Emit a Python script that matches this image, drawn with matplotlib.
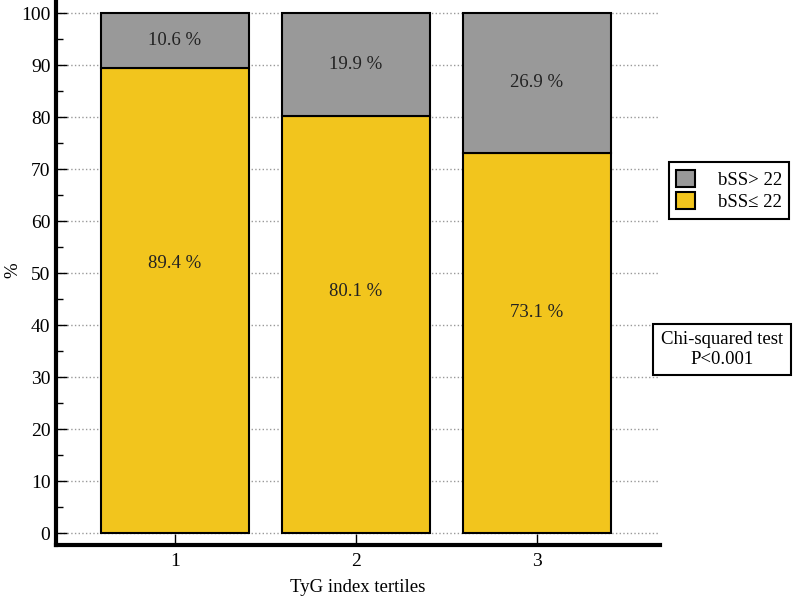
import matplotlib
matplotlib.use('Agg')
import matplotlib.pyplot as plt
from matplotlib.patches import Patch
import numpy as np

plt.rcParams['font.family'] = ['Liberation Serif', 'DejaVu Serif']

tertiles = ['1', '2', '3']
low_bss = [89.4, 80.1, 73.1]
high_bss = [10.6, 19.9, 26.9]
legend_labels = ['bSS> 22', 'bSS\u2264 22']
test_lines = ['Chi-squared test', 'P<0.001']

yellow = '#F2C51D'
grey = '#999999'


def main():
    fig = plt.figure(figsize=(7.97, 6.01), dpi=100)
    ax = fig.add_axes([0.0703, 0.0932, 0.7578, 0.9068])

    x = np.arange(1, len(tertiles) + 1)
    low = np.array(low_bss)
    high = np.array(high_bss)

    ax.bar(x, low, width=0.82, color=yellow, edgecolor='black', linewidth=1.5, zorder=3)
    ax.bar(x, high, bottom=low, width=0.82, color=grey, edgecolor='black', linewidth=1.5, zorder=3)

    for xi, lo, hi in zip(x, low, high):
        ax.text(xi, lo * 0.58, f'{lo:.1f} %', ha='center', va='center', fontsize=13.5, color='#222222', zorder=4)
        ax.text(xi, lo + hi / 2, f'{hi:.1f} %', ha='center', va='center', fontsize=13.5, color='#222222', zorder=4)

    ax.set_xlim(0.343, 3.68)
    ax.set_ylim(-2.3, 102.5)
    ax.set_xticks(x)
    ax.set_xticklabels(tertiles)
    ax.set_yticks(np.arange(0, 101, 10))
    ax.set_yticks(np.arange(5, 100, 10), minor=True)
    ax.tick_params(axis='both', which='major', direction='in', length=8, width=1, labelsize=14, pad=4)
    ax.tick_params(axis='y', which='minor', direction='in', length=5, width=1)
    ax.tick_params(axis='x', pad=6)
    ax.grid(axis='y', which='major', linestyle=':', color='#999999', linewidth=1, zorder=0)

    for s in ['top', 'right']:
        ax.spines[s].set_visible(False)
    for s in ['left', 'bottom']:
        ax.spines[s].set_linewidth(3)

    ax.set_xlabel('TyG index tertiles', fontsize=13.5, labelpad=6)
    fig.text(0.016, 0.55, '%', rotation=90, ha='center', va='center', fontsize=13.5)

    handles = [Patch(facecolor=grey, edgecolor='black', linewidth=1.5),
               Patch(facecolor=yellow, edgecolor='black', linewidth=1.5)]
    leg = fig.legend(handles, legend_labels, loc='center', bbox_to_anchor=(0.9147, 0.683),
                     fontsize=13.5, fancybox=False, framealpha=1, edgecolor='black',
                     handlelength=1.0, handleheight=1.0, handletextpad=1.2, borderpad=0.4,
                     labelspacing=0.2)
    leg.get_frame().set_linewidth(1.5)

    fig.text(0.9059, 0.4185, '\n'.join(test_lines), ha='center', va='center', fontsize=13.5,
             bbox=dict(boxstyle='square,pad=0.4', facecolor='white', edgecolor='black', linewidth=1.5))

    fig.savefig('out.png', dpi=100)


if __name__ == '__main__':
    main()
